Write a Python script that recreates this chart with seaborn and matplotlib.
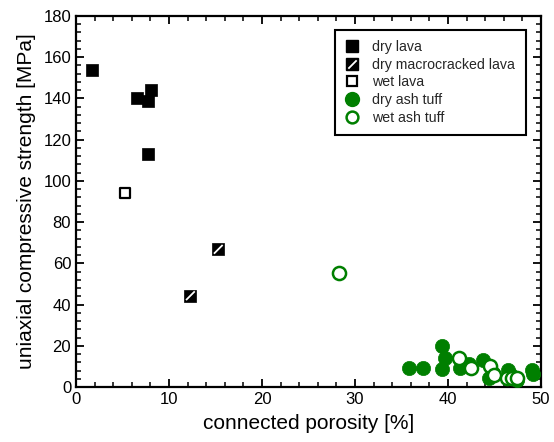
import numpy as np
import pandas as pd
import matplotlib
matplotlib.use("Agg")
import matplotlib.pyplot as plt
import seaborn as sns
from matplotlib.path import Path
from matplotlib.lines import Line2D
from matplotlib.legend_handler import HandlerTuple
from matplotlib.ticker import MultipleLocator

# Data
dry_lava_x = [1.7, 6.6, 8.1, 7.7, 7.7]
dry_lava_y = [154, 140, 144, 139, 113]
macro_lava_x = [15.3, 12.3]
macro_lava_y = [66.8, 44.3]
wet_lava_x = [5.3]
wet_lava_y = [94.2]
dry_tuff_x = [35.8, 37.3, 39.4, 39.7, 39.4, 41.3, 42.3, 43.8, 44.4, 44.8, 46.5, 46.8, 47.4, 49.0, 49.1]
dry_tuff_y = [9.4, 9.4, 19.9, 13.9, 8.6, 9.1, 11.0, 13.1, 4.4, 7.0, 8.3, 6.0, 3.4, 8.3, 6.2]
wet_tuff_x = [28.3, 41.2, 42.5, 44.5, 44.9, 46.3, 46.9, 47.4]
wet_tuff_y = [55.3, 13.9, 9.1, 10.2, 6.0, 4.4, 4.4, 4.2]

labels = ["dry lava", "dry macrocracked lava", "wet lava", "dry ash tuff", "wet ash tuff"]
green = "#007F00"

sns.set_theme(style="white")
plt.rcParams['font.family'] = ['Liberation Sans', 'DejaVu Sans']

fig = plt.figure(figsize=(5.54, 4.42), dpi=100)
ax = fig.add_axes([0.1372, 0.1244, 0.8393, 0.8394])

sq_s = 72
ci_s = 105
slash = Path([(-1, -1), (1, 1)], [Path.MOVETO, Path.LINETO])

sns.scatterplot(x=dry_lava_x, y=dry_lava_y, marker="s", s=sq_s, color="black",
                edgecolor="black", linewidth=0.5, ax=ax, zorder=3)
sns.scatterplot(x=macro_lava_x, y=macro_lava_y, marker="s", s=sq_s, color="black",
                edgecolor="black", linewidth=0.5, ax=ax, zorder=3)
ax.scatter(macro_lava_x, macro_lava_y, marker=slash, s=sq_s * 0.55, facecolor="none",
           edgecolor="white", linewidth=1.3, zorder=4)
sns.scatterplot(x=wet_lava_x, y=wet_lava_y, marker="s", s=sq_s * 0.8, facecolor="white",
                edgecolor="black", linewidth=1.6, ax=ax, zorder=3)
sns.scatterplot(x=dry_tuff_x, y=dry_tuff_y, marker="o", s=ci_s, color=green,
                edgecolor=green, linewidth=0.5, ax=ax, zorder=3)
sns.scatterplot(x=wet_tuff_x, y=wet_tuff_y, marker="o", s=ci_s * 0.85, facecolor="white",
                edgecolor=green, linewidth=1.8, ax=ax, zorder=4)

ax.set_xlim(0, 50)
ax.set_ylim(0, 180)
ax.xaxis.set_major_locator(MultipleLocator(10))
ax.xaxis.set_minor_locator(MultipleLocator(2))
ax.yaxis.set_major_locator(MultipleLocator(20))
ax.yaxis.set_minor_locator(MultipleLocator(4))
ax.tick_params(which="both", direction="in", top=True, right=True, bottom=True, left=True,
               colors="black", labelsize=12)
ax.tick_params(which="major", length=6, width=1.3)
ax.tick_params(which="minor", length=3.5, width=1.1)
for sp in ax.spines.values():
    sp.set_color("black")
    sp.set_linewidth(1.6)

ax.set_xlabel("connected porosity [%]", fontsize=15, color="black", labelpad=5)
ax.set_ylabel("uniaxial compressive strength [MPa]", fontsize=15, color="black", labelpad=5)

# Legend
h1 = Line2D([], [], marker="s", linestyle="none", markersize=8, markerfacecolor="black", markeredgecolor="black")
h2a = Line2D([], [], marker="s", linestyle="none", markersize=8, markerfacecolor="black", markeredgecolor="black")
h2b = Line2D([], [], marker=slash, linestyle="none", markersize=6, markerfacecolor="none",
             markeredgecolor="white", markeredgewidth=1.3)
h3 = Line2D([], [], marker="s", linestyle="none", markersize=7, markerfacecolor="white", markeredgecolor="black", markeredgewidth=1.6)
h4 = Line2D([], [], marker="o", linestyle="none", markersize=10, markerfacecolor=green, markeredgecolor=green)
h5 = Line2D([], [], marker="o", linestyle="none", markersize=8.5, markerfacecolor="white", markeredgecolor=green, markeredgewidth=1.8)
leg = ax.legend([h1, (h2a, h2b), h3, h4, h5], labels,
                handler_map={tuple: HandlerTuple(ndivide=1, pad=0)},
                loc="upper right", bbox_to_anchor=(0.967, 0.963), fontsize=10.2,
                frameon=True, fancybox=False, edgecolor="black", framealpha=1,
                handlelength=1.0, handletextpad=0.9, labelspacing=0.25,
                borderpad=0.75, borderaxespad=0)
leg.get_frame().set_linewidth(1.5)

fig.savefig("out.png", dpi=100)
